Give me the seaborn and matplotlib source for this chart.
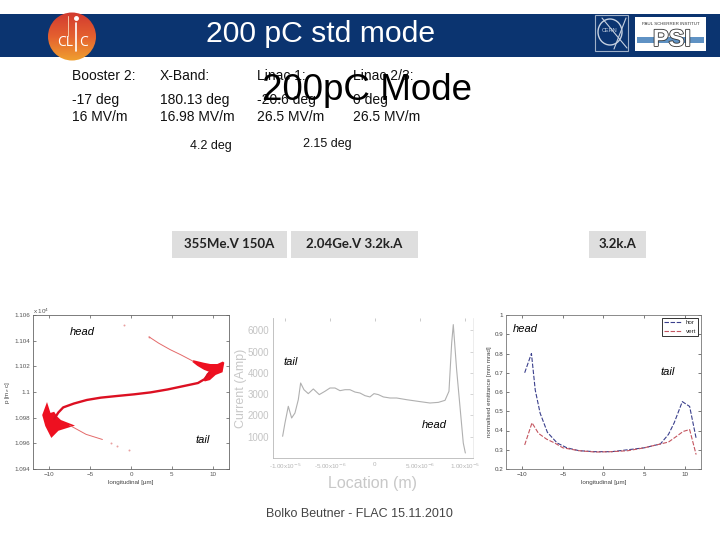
import matplotlib
matplotlib.use('Agg')
import matplotlib.patheffects as pe
import matplotlib.pyplot as plt
import numpy as np
import seaborn as sns
from matplotlib.colors import LinearSegmentedColormap
from matplotlib.patches import Ellipse, Rectangle

# phase space, long. position [um] and momentum [1e4 m_e c]
core_x = [-9.4, -8.9, -8.3, -7, -5.4, -3.7, -1.7, 0.4, 2.4, 4.5, 6.5, 8.2, 9, 9.6]
core_p = [1.0979, 1.0984, 1.0988, 1.0991, 1.09938, 1.09956, 1.09969, 1.09982, 1.09997, 1.1002, 1.10047, 1.1007, 1.1010, 1.1015]
tail_blob_x = [-10.3, -10.0, -9.5, -9.2, -8.7, -7.5, -9.0, -9.7, -10.3, -10.65]
tail_blob_p = [1.0988, 1.0982, 1.0983, 1.0980, 1.0977, 1.0974, 1.0971, 1.09665, 1.0974, 1.0982]
head_blob_x = [7.6, 8.9, 9.7, 10.6, 11.3, 11.1, 10.3, 9.6, 9.0, 9.4, 9.8, 9.0, 8.2]
head_blob_p = [1.1024, 1.1022, 1.1021, 1.1021, 1.1023, 1.1016, 1.1014, 1.1010, 1.1009, 1.1014, 1.1016, 1.1018, 1.1021]
upper_x = [7.6, 6.1, 4.8, 3.4, 2.2]
upper_p = [1.1024, 1.1029, 1.1033, 1.1038, 1.1043]
lower_x = [-7.5, -5.5, -3.5]
lower_p = [1.0974, 1.0967, 1.0963]
stray_x = [-0.8, 2.2, -2.5, -1.7, -0.2]
stray_p = [1.1052, 1.1043, 1.0960, 1.0958, 1.0955]

# current profile
loc_um = [-10.26, -10, -9.63, -9.26, -8.89, -8.52, -8.26, -7.89, -7.41, -6.85, -6.19, -5.56, -5, -4.44, -3.89, -3.33, -2.78, -2.22, -1.67, -1.11, -0.56, -0.11, 0.37, 0.93, 1.67, 2.41, 3.52, 5, 6.11, 7.04, 7.78, 8.22, 8.52, 8.7, 9.07, 9.44, 9.81, 10.04]
current = [1020, 1645, 2430, 1880, 2115, 2740, 3525, 3210, 3025, 3245, 2980, 3135, 3290, 3290, 3165, 3210, 3210, 3100, 3055, 2930, 2870, 3025, 2980, 2870, 2820, 2820, 2740, 2650, 2585, 2615, 2710, 3135, 5405, 6270, 4150, 2430, 705, 235]

# slice emittance
hor_x = [-9.7, -8.87, -8.4, -7.8, -6.9, -5.7, -4.5, -3, -1, 1, 3, 5, 7, 8, 8.7, 9.7, 10.6, 11.4]
hor_e = [0.70, 0.80, 0.61, 0.49, 0.39, 0.335, 0.31, 0.295, 0.29, 0.29, 0.30, 0.31, 0.33, 0.38, 0.44, 0.55, 0.525, 0.36]
vert_x = [-9.7, -8.8, -8, -7, -6, -5, -3, -1, 1, 3, 5, 7, 8, 9, 9.8, 10.6, 11.4]
vert_e = [0.325, 0.44, 0.385, 0.355, 0.335, 0.31, 0.295, 0.288, 0.29, 0.295, 0.31, 0.33, 0.34, 0.37, 0.395, 0.405, 0.275]

col_heads = ['Booster 2:', 'X-Band:', 'Linac 1:', 'Linac 2/3:']
col_phase = ['-17 deg', '180.13 deg', '-20.6 deg', '0 deg']
col_grad = ['16 MV/m', '16.98 MV/m', '26.5 MV/m', '26.5 MV/m']
col_x = [72, 160, 257, 353]

sns.set_style('white')
plt.rcParams['font.family'] = ['Liberation Sans', 'DejaVu Sans']

W, H = 720, 540
fig = plt.figure(figsize=(7.2, 5.4), dpi=100)


def px_axes(left, top, right, bottom):
    return fig.add_axes([left / W, 1 - bottom / H, (right - left) / W, (bottom - top) / H])


bg = fig.add_axes([0, 0, 1, 1])
bg.set_xlim(0, W)
bg.set_ylim(H, 0)
bg.axis('off')

# banner and logos
bg.add_patch(Rectangle((0, 14), 720, 43, color='#0b3470', lw=0))
grad = np.linspace(0, 1, 64)[:, None]
logo_cm = LinearSegmentedColormap.from_list('clic', ['#d23a30', '#e4602f', '#f0a030'])
im = bg.imshow(grad, extent=(47, 97, 61, 12), cmap=logo_cm, aspect='auto', zorder=2)
im.set_clip_path(Ellipse((72, 36.5), 48, 48, transform=bg.transData))
bg.set_xlim(0, W)
bg.set_ylim(H, 0)
bg.text(65, 42, 'CL', color='white', fontsize=10, ha='center', va='center', zorder=3, family='Open Sans')
bg.text(84, 42, 'C', color='white', fontsize=10, ha='center', va='center', zorder=3, family='Open Sans')
bg.plot([76, 76], [23, 51], color='white', lw=1.2, zorder=3)
bg.plot([68, 68], [16, 36], color='#f6c9a8', lw=0.7, zorder=3)
bg.plot([76], [18], 'o', color='white', ms=2.5, zorder=3)
bg.add_patch(Rectangle((595, 15), 33, 36, fill=False, ec='#9fb0c8', lw=0.8))
bg.text(610, 31, 'CERN', color='#c5d0e0', fontsize=4, ha='center', va='center')
bg.add_patch(Ellipse((610, 32), 24, 26, fill=False, ec='#c5d0e0', lw=1))
bg.plot([614, 626], [49, 18], color='#c5d0e0', lw=0.8)
bg.plot([602, 627], [18, 48], color='#c5d0e0', lw=0.8)
bg.add_patch(Rectangle((635, 17), 71, 34, color='white', lw=0))
bg.add_patch(Rectangle((637, 37), 67, 6, color='#5f92c4', lw=0))
bg.text(670.5, 24, 'PAUL SCHERRER INSTITUT', color='#333333', fontsize=3.2, ha='center', va='center')
bg.text(672, 39.5, 'PSI', color='white', fontsize=17, weight='bold', ha='center', va='center',
        path_effects=[pe.withStroke(linewidth=1.2, foreground='#333333')])
bg.text(321, 34, '200 pC std mode', color='white', fontsize=21.7, ha='center', va='center')

# settings table
for x, a, b, c in zip(col_x, col_heads, col_phase, col_grad):
    bg.text(x, 76, a, fontsize=10, color='#111111', va='center')
    bg.text(x, 100, b, fontsize=10, color='#111111', va='center')
    bg.text(x, 117, c, fontsize=10, color='#111111', va='center')
bg.text(190, 146, '4.2 deg', fontsize=9, color='#111111', va='center')
bg.text(303, 144, '2.15 deg', fontsize=9, color='#111111', va='center')
bg.text(262, 90, '200pC Mode', fontsize=26.5, color='black', va='center')

# beam parameter boxes
for x0, x1, label in [(172, 287, '355Me.V 150A'), (291, 418, '2.04Ge.V 3.2k.A'), (589, 646, '3.2k.A')]:
    bg.add_patch(Rectangle((x0, 231), x1 - x0, 27, color='#dedede', lw=0))
    bg.text((x0 + x1) / 2, 244.5, label, fontsize=9.5, color='#222222', weight='bold',
            ha='center', va='center', family='Lato')

bg.text(359, 514, 'Bolko Beutner - FLAC 15.11.2010', fontsize=9, color='#444444', ha='center', va='center')

tick_kw = dict(labelsize=4.5, length=2, width=0.5, direction='in', top=True, right=True, bottom=True, left=True, pad=2)

# left panel, phase space
ax1 = px_axes(33, 315, 229, 469)
sns.lineplot(x=upper_x, y=upper_p, ax=ax1, color='#e46a6a', lw=0.7, sort=False, estimator=None)
sns.lineplot(x=lower_x, y=lower_p, ax=ax1, color='#e46a6a', lw=0.7, sort=False, estimator=None)
sns.scatterplot(x=stray_x, y=stray_p, ax=ax1, color='#e9a0a0', s=2, linewidth=0)
sns.lineplot(x=core_x, y=core_p, ax=ax1, color='#dc1022', lw=1.7, sort=False, estimator=None)
ax1.fill(tail_blob_x, tail_blob_p, fc='#ee1020', ec='#ee1020', lw=2.5)
ax1.fill(head_blob_x, head_blob_p, fc='#ee1020', ec='#ee1020', lw=1.5)
ax1.set_xlim(-12, 12)
ax1.set_ylim(1.094, 1.106)
ax1.set_xticks([-10, -5, 0, 5, 10])
ax1.set_yticks([1.094, 1.096, 1.098, 1.1, 1.102, 1.104, 1.106])
ax1.set_yticklabels(['1.094', '1.096', '1.098', '1.1', '1.102', '1.104', '1.106'])
ax1.tick_params(colors='#555555', **tick_kw)
ax1.set_xlabel('longitudinal [\u00b5m]', fontsize=4.5, color='#444444', labelpad=2)
ax1.set_ylabel('p [m$_e$ c]', fontsize=4.5, color='#444444', labelpad=2)
ax1.text(0.0, 1.005, 'x 10$^4$', transform=ax1.transAxes, fontsize=4.5, color='#555555')
for s in ax1.spines.values():
    s.set_color('#666666')
    s.set_linewidth(0.6)

# middle panel, current profile
ax2 = px_axes(273, 318, 473, 458)
sns.lineplot(x=loc_um, y=current, ax=ax2, color='#b0b0b0', lw=0.8, sort=False, estimator=None)
ax2.set_xlim(-11.33, 10.89)
ax2.set_ylim(0, 6580)
ax2.set_xticks([-10, -5, 0, 5, 10])
ax2.set_xticklabels(['-1.00x10$^{-5}$', '-5.00x10$^{-6}$', '0', '5.00x10$^{-6}$', '1.00x10$^{-5}$'])
ax2.set_yticks([1000, 2000, 3000, 4000, 5000, 6000])
ax2.tick_params(axis='x', colors='#b5b5b5', labelsize=4.5, length=2, width=0.5, direction='in', top=True, pad=3)
ax2.tick_params(axis='y', colors='#c4c4c4', labelsize=7, length=2, width=0.5, direction='in', right=True, pad=3)
ax2.set_xlabel('Location (m)', fontsize=11.5, color='#c8c8c8', labelpad=3)
ax2.set_ylabel('Current (Amp)', fontsize=9, color='#c8c8c8', labelpad=0)
ax2.spines['top'].set_visible(False)
ax2.spines['right'].set_color('#e6e6e6')
ax2.spines['right'].set_linewidth(0.5)
for s in ['left', 'bottom']:
    ax2.spines[s].set_color('#b8b8b8')
    ax2.spines[s].set_linewidth(0.6)

# right panel, slice emittance
ax3 = px_axes(506, 315, 701, 469)
sns.lineplot(x=hor_x, y=hor_e, ax=ax3, color='#3a3f8c', lw=0.8, sort=False, estimator=None, label='hor')
sns.lineplot(x=vert_x, y=vert_e, ax=ax3, color='#c4555f', lw=0.8, sort=False, estimator=None, label='vert')
ax3.lines[0].set_dashes([4, 1.5])
ax3.lines[1].set_dashes([4, 1.5])
ax3.set_xlim(-12, 12)
ax3.set_ylim(0.2, 1)
ax3.set_xticks([-10, -5, 0, 5, 10])
ax3.set_yticks([0.2, 0.3, 0.4, 0.5, 0.6, 0.7, 0.8, 0.9, 1])
ax3.set_yticklabels(['0.2', '0.3', '0.4', '0.5', '0.6', '0.7', '0.8', '0.9', '1'])
ax3.tick_params(colors='#444444', **tick_kw)
ax3.set_xlabel('longitudinal [\u00b5m]', fontsize=4.5, color='#444444', labelpad=2)
ax3.set_ylabel('normalised emittance [mm mrad]', fontsize=4.5, color='#444444', labelpad=2)
leg = ax3.legend(loc='upper right', fontsize=4.5, frameon=True, fancybox=False, edgecolor='#333333',
                 framealpha=1, borderaxespad=0.4, handlelength=2.6, labelspacing=0.5)
leg.get_frame().set_linewidth(0.7)
for s in ax3.spines.values():
    s.set_color('#777777')
    s.set_linewidth(0.6)

# head / tail marks go on top of the panels
fg = fig.add_axes([0, 0, 1, 1], facecolor='none')
fg.set_xlim(0, W)
fg.set_ylim(H, 0)
fg.axis('off')
marks = [(82, 332, 'head'), (291, 362, 'tail'), (203, 440, 'tail'), (434, 425, 'head'), (525, 329, 'head'), (668, 372, 'tail')]
for x, y, label in marks:
    fg.text(x, y, label, fontsize=8, style='italic', color='black', ha='center', va='center')

fig.savefig('out.png', dpi=100)
